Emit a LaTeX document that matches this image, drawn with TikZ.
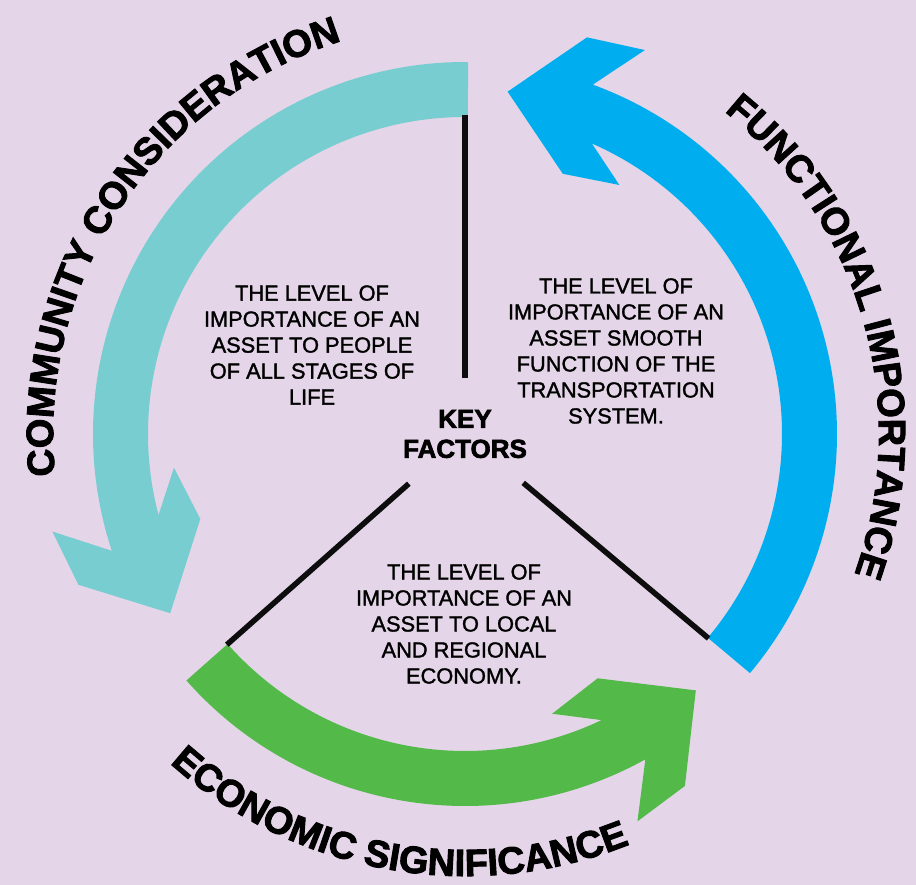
\documentclass[tikz,border=0pt]{standalone}
\usepackage{fontspec}
\setmainfont{Liberation Sans}
\newfontfamily\descFamily{Liberation Sans}[FakeBold=1.5]
\newfontfamily\heavyFamily{Liberation Sans}[FakeBold=2.5]
\usepackage{tikz}
\usetikzlibrary{decorations.text}
\definecolor{themeLavender}{RGB}{228, 214, 232}
\definecolor{themeTeal}{RGB}{120, 205, 209}
\definecolor{themeBlue}{RGB}{0, 174, 239}
\definecolor{themeGreen}{RGB}{83, 186, 74}
\newcommand{\lCommunity}{THE LEVEL OF\\IMPORTANCE OF AN\\ASSET TO PEOPLE\\OF ALL STAGES OF\\LIFE}
\newcommand{\lFunctional}{THE LEVEL OF\\IMPORTANCE OF AN\\ASSET SMOOTH\\FUNCTION OF THE\\TRANSPORTATION\\SYSTEM.}
\newcommand{\lEconomic}{THE LEVEL OF\\IMPORTANCE OF AN\\ASSET TO LOCAL\\AND REGIONAL\\ECONOMY.}
\newcommand{\arcFont}{\heavyFamily\bfseries\fontsize{38}{38}\selectfont}
% ring arrow: colour, start angle, tip angle
\newcommand{\ringArrow}[3]{%
    \fill[#1] (#2:317) arc[start angle=#2, end angle={#3-16.5}, radius=317] -- ({#3-24.7}:293) -- ({#3-13.5}:278) -- (#3:345) -- ({#3-10}:415) -- ({#3-18}:424) -- ({#3-13}:372) arc[start angle={#3-13}, end angle=#2, radius=372] -- cycle;}

\begin{document}
\begin{tikzpicture} [
        x=1pt, y=1pt,
        spoke/.style={line width=5.5pt, black!95},
        desc/.style={font=\descFamily\fontsize{21.8}{26}\selectfont, align=center},
        hub/.style={font=\heavyFamily\bfseries\fontsize{26}{30}\selectfont, align=center},
        arc label/.style={decorate, decoration={text along path, text align=center, text={|\arcFont|#1}}}
    ]

    \fill[themeLavender] (-465,-451) rectangle (451,434);
    \useasboundingbox (-465,-451) rectangle (451,434);

    \ringArrow{themeTeal}{89.5}{211.3}
    \ringArrow{themeGreen}{221.5}{312}
    \ringArrow{themeBlue}{320}{442.9}

    \node[hub] (key) at (0,0) {KEY\\FACTORS};

    \coordinate (top in) at (90:56);
    \coordinate (top out) at (90:319);
    \coordinate (left in) at (221.5:75);
    \coordinate (left out) at (221.5:318);
    \coordinate (right in) at (-40:76);
    \coordinate (right out) at (-40:318);
    \draw[spoke] (top in) -- (top out);
    \draw[spoke] (left in) -- (left out);
    \draw[spoke] (right in) -- (right out);

    \node[desc] (community) at (-153,89) {\lCommunity};
    \node[desc] (functional) at (151,83) {\lFunctional};
    \node[desc] (economic) at (-1,-190) {\lEconomic};

    \path[arc label={COMMUNITY CONSIDERATION}] (196.6:412) arc[start angle=196.6, end angle=96.6, radius=412];
    \path[arc label={FUNCTIONAL IMPORTANCE}] (65.7:414) arc[start angle=65.7, end angle=-34.3, radius=414];
    \path[arc label={ECONOMIC SIGNIFICANCE}] (215:442) arc[start angle=215, end angle=305, radius=442];

    \end{tikzpicture}
\end{document}
